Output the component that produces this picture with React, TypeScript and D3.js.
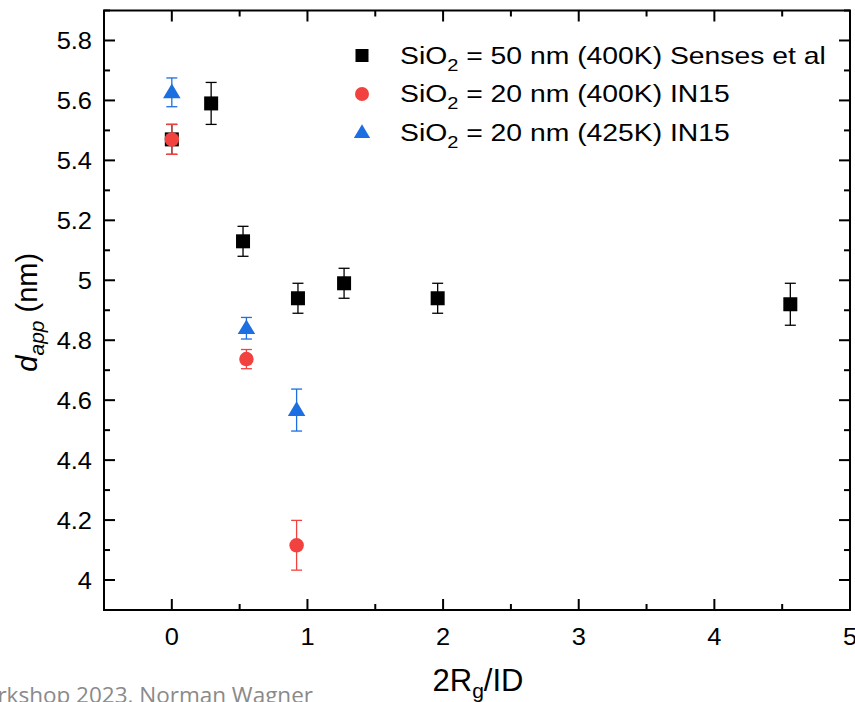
import React from "react";
import * as d3 from "d3";

// Senses et al, SiO2 = 50 nm (400K)
const sensesX = [0, 0.29, 0.525, 0.93, 1.27, 1.96, 4.56];
const sensesY = [5.47, 5.59, 5.13, 4.94, 4.99, 4.94, 4.92];
const sensesErr = [0.05, 0.07, 0.05, 0.05, 0.05, 0.05, 0.07];

// IN15, SiO2 = 20 nm (400K)
const in15_400X = [0, 0.55, 0.92];
const in15_400Y = [5.47, 4.737, 4.116];
const in15_400Err = [0.05, 0.032, 0.083];

// IN15, SiO2 = 20 nm (425K)
const in15_425X = [0, 0.55, 0.92];
const in15_425Y = [5.627, 4.84, 4.567];
const in15_425Err = [0.048, 0.036, 0.07];

const xTicks = [0, 1, 2, 3, 4, 5];
const yTicks = [4, 4.2, 4.4, 4.6, 4.8, 5, 5.2, 5.4, 5.6, 5.8];

const W = 855;
const H = 702;
const left = 104;
const right = 850;
const top = 10.5;
const bottom = 610;

const BLACK = "#000000";
const RED = "#F24240";
const BLUE = "#1C6FE0";
const FONT = "'Liberation Sans', Arial, sans-serif";

const x = d3.scaleLinear().domain([-0.5, 5]).range([left, right]);
const y = d3.scaleLinear().domain([3.9, 5.9]).range([bottom, top]);

type Shape = "square" | "circle" | "triangle";

function Marker({ shape, cx, cy, color, size }: { shape: Shape; cx: number; cy: number; color: string; size: number }) {
  if (shape === "square") {
    return <rect x={cx - size / 2} y={cy - size / 2} width={size} height={size} fill={color} />;
  }
  if (shape === "circle") {
    return <circle cx={cx} cy={cy} r={size / 2} fill={color} />;
  }
  const w = size * 1.25;
  const h = size * 1.05;
  const path = `M${cx},${cy - h * 0.6} L${cx + w / 2},${cy + h * 0.4} L${cx - w / 2},${cy + h * 0.4} Z`;
  return <path d={path} fill={color} />;
}

function Series({ xs, ys, errs, color, shape, size }: { xs: number[]; ys: number[]; errs: number[]; color: string; shape: Shape; size: number }) {
  return (
    <g>
      {xs.map((xv, i) => {
        const cx = x(xv);
        const y1 = y(ys[i] + errs[i]);
        const y2 = y(ys[i] - errs[i]);
        const cap = 5.5;
        return (
          <g key={i} stroke={color} strokeWidth={1.3}>
            <line x1={cx} x2={cx} y1={y1} y2={y2} />
            <line x1={cx - cap} x2={cx + cap} y1={y1} y2={y1} />
            <line x1={cx - cap} x2={cx + cap} y1={y2} y2={y2} />
          </g>
        );
      })}
      {xs.map((xv, i) => (
        <Marker key={"m" + i} shape={shape} cx={x(xv)} cy={y(ys[i])} color={color} size={size} />
      ))}
    </g>
  );
}

function SiO2Label({ tx, ty, rest }: { tx: number; ty: number; rest: string }) {
  return (
    <text transform={`translate(${tx},${ty}) scale(1.18,1)`} fontSize={24} fontFamily={FONT} fill="#000">
      SiO
      <tspan fontSize={17} dy={7}>2</tspan>
      <tspan dy={-7}>{rest}</tspan>
    </text>
  );
}

export default function App() {
  const xMinor = d3.range(-0.5, 5.01, 0.5);
  const yMinor = d3.range(3.9, 5.91, 0.1).map((v) => Math.round(v * 10) / 10);
  const majorLen = 11;
  const minorLen = 6;

  const legend = [
    { shape: "square" as Shape, color: BLACK, rest: " = 50 nm (400K) Senses et al", size: 13 },
    { shape: "circle" as Shape, color: RED, rest: " = 20 nm (400K) IN15", size: 14 },
    { shape: "triangle" as Shape, color: BLUE, rest: " = 20 nm (425K) IN15", size: 13 },
  ];

  return (
    <svg
      width={W}
      height={H}
      style={{ position: "absolute", left: 0, top: 0, background: "#fff" }}
    >
      <rect x={0} y={0} width={W} height={H} fill="#fff" />

      {/* ticks: all pointing inward, mirrored on the opposite sides */}
      <g stroke="#000" strokeWidth={2}>
        {xMinor.map((v) => {
          const isMajor = Math.abs(v - Math.round(v)) < 1e-6;
          const len = isMajor ? majorLen : minorLen;
          const px = x(v);
          return (
            <g key={"xt" + v}>
              <line x1={px} x2={px} y1={bottom} y2={bottom - len} />
              <line x1={px} x2={px} y1={top} y2={top + len} />
            </g>
          );
        })}
        {yMinor.map((v) => {
          const isMajor = yTicks.some((t) => Math.abs(t - v) < 1e-6);
          const len = isMajor ? majorLen : minorLen;
          const py = y(v);
          return (
            <g key={"yt" + v}>
              <line x1={left} x2={left + len} y1={py} y2={py} />
              <line x1={right} x2={right - len} y1={py} y2={py} />
            </g>
          );
        })}
      </g>

      {/* frame */}
      <rect x={left} y={top} width={right - left} height={bottom - top} fill="none" stroke="#000" strokeWidth={2} />

      {/* tick labels */}
      <g fontFamily={FONT} fontSize={24} fill="#000">
        {xTicks.map((v) => (
          <text key={"xl" + v} transform={`translate(${x(v)},${bottom + 35}) scale(1.06,1)`} textAnchor="middle">
            {v}
          </text>
        ))}
        {yTicks.map((v) => (
          <text key={"yl" + v} transform={`translate(${left - 12},${y(v) + 8.5}) scale(1.06,1)`} textAnchor="end">
            {d3.format("~g")(v)}
          </text>
        ))}
      </g>

      {/* axis titles */}
      <text x={(left + right) / 2 + 1} y={691} textAnchor="middle" fontFamily={FONT} fontSize={31} fill="#000">
        2R<tspan fontSize={21} dy={7}>g</tspan>
        <tspan dy={-7}>/ID</tspan>
      </text>
      <text
        transform={`translate(37, ${(top + bottom) / 2 + 2}) rotate(-90)`}
        textAnchor="middle"
        fontFamily={FONT}
        fontSize={29}
        fill="#000"
      >
        <tspan fontStyle="italic">d</tspan>
        <tspan fontStyle="italic" fontSize={21} dy={7}>app</tspan>
        <tspan dy={-7}>{"\u00A0(nm)"}</tspan>
      </text>

      {/* data */}
      <Series xs={sensesX} ys={sensesY} errs={sensesErr} color={BLACK} shape="square" size={14} />
      <Series xs={in15_400X} ys={in15_400Y} errs={in15_400Err} color={RED} shape="circle" size={14.5} />
      <Series xs={in15_425X} ys={in15_425Y} errs={in15_425Err} color={BLUE} shape="triangle" size={14} />

      {/* legend */}
      {legend.map((l, i) => {
        const cy = 55.5 + i * 38.5;
        return (
          <g key={"lg" + i}>
            <Marker shape={l.shape} cx={362} cy={cy} color={l.color} size={l.size} />
            <SiO2Label tx={400} ty={cy + 8} rest={l.rest} />
          </g>
        );
      })}

      {/* footer */}
      <text x={313} y={703} textAnchor="end" fontFamily="'Open Sans', 'Noto Sans', sans-serif" fontSize={22.5} fill="#8a8a8a">
        Workshop 2023, Norman Wagner
      </text>
    </svg>
  );
}
